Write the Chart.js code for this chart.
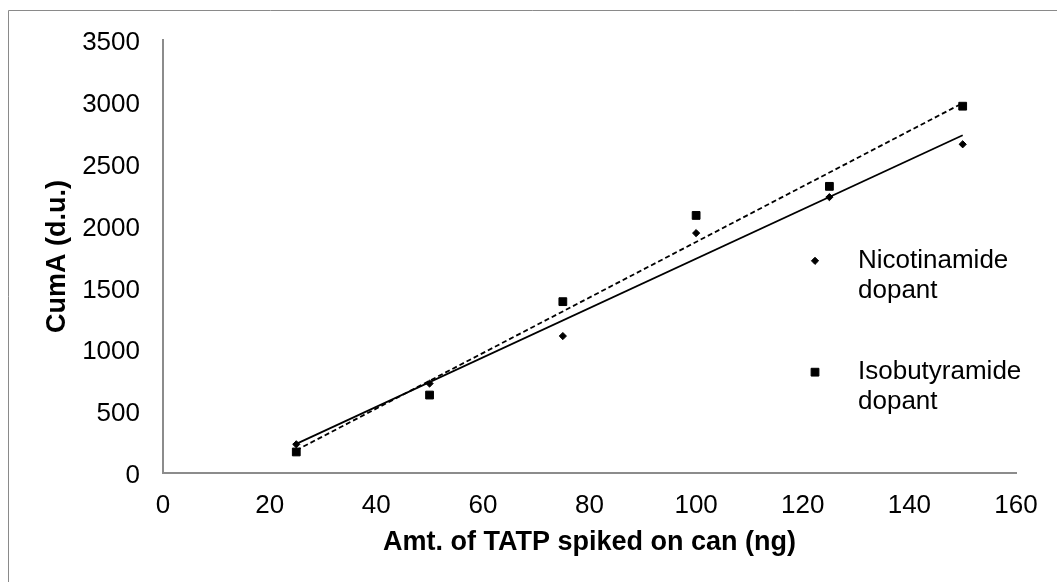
<!DOCTYPE html>
<html>
<head>
<meta charset="utf-8">
<title>CumA vs amount of TATP</title>
<script src="https://cdn.jsdelivr.net/npm/chart.js@4/dist/chart.umd.min.js"></script>
<style>
  html, body { margin: 0; padding: 0; background: #ffffff; }
  #wrap { position: relative; width: 1057px; height: 582px; }
  canvas { display: block; }
</style>
</head>
<body>
<div id="wrap"><canvas id="chart" width="1057" height="582"></canvas></div>
<script>
// Amount of TATP spiked on the can (ng)
const amounts = [25, 50, 75, 100, 125, 150];

// Cumulative amplitude (d.u.) for each dopant
const nicotinamide = [232, 723, 1107, 1939, 2230, 2657];
const isobutyramide = [170, 630, 1385, 2082, 2317, 2965];

// Linear trend line end points (x at 25 and 150 ng)
const trendX = [25, 150];
const nicotinamideTrend = [235, 2730];
const isobutyramideTrend = [184, 2990];

// Axis ticks
const xTicks = [0, 20, 40, 60, 80, 100, 120, 140, 160];
const yTicks = [0, 500, 1000, 1500, 2000, 2500, 3000, 3500];

// Legend text (two lines per entry)
const legendLabels = [
  ['Nicotinamide', 'dopant'],
  ['Isobutyramide', 'dopant']
];

const FONT = '"Liberation Sans", Arial, Helvetica, sans-serif';
const AXIS_GREY = '#8c8c8c';

const pairs = (xs, ys) => xs.map((x, i) => ({ x: x, y: ys[i] }));

// Frame lines along the top and left of the figure, plus a legend inside the plot
const framePlugin = {
  id: 'frame',
  beforeDraw(chart) {
    const ctx = chart.ctx;
    ctx.save();
    ctx.fillStyle = '#ffffff';
    ctx.fillRect(0, 0, chart.width, chart.height);
    ctx.strokeStyle = '#8a8a8a';
    ctx.lineWidth = 1;
    ctx.beginPath();
    ctx.moveTo(8.5, chart.height);
    ctx.lineTo(8.5, 10.5);
    ctx.lineTo(chart.width, 10.5);
    ctx.stroke();
    ctx.restore();
  },
  afterDraw(chart) {
    const ctx = chart.ctx;
    const xs = chart.scales.x;
    const ys = chart.scales.y;
    // legend anchored to data space so it sits beside the upper points
    const markerX = xs.getPixelForValue(122.3);
    const textX = markerX + 43;
    const rows = [ys.getPixelForValue(1715), ys.getPixelForValue(815)];
    const lineGap = 30;
    ctx.save();
    ctx.font = '26px ' + FONT;
    ctx.fillStyle = '#000000';
    ctx.textBaseline = 'middle';
    ctx.textAlign = 'left';
    legendLabels.forEach((lines, i) => {
      const ds = chart.data.datasets[i];
      const style = {
        pointStyle: ds.pointStyle,
        radius: ds.pointRadius,
        borderWidth: ds.pointBorderWidth || 1,
        rotation: 0
      };
      ctx.fillStyle = '#000000';
      ctx.strokeStyle = '#000000';
      ctx.lineWidth = style.borderWidth;
      Chart.helpers.drawPoint(ctx, style, markerX, rows[i]);
      lines.forEach((t, j) => ctx.fillText(t, textX, rows[i] + j * lineGap));
    });
    ctx.restore();
  }
};

new Chart(document.getElementById('chart'), {
  type: 'scatter',
  data: {
    datasets: [
      {
        label: 'Nicotinamide dopant',
        data: pairs(amounts, nicotinamide),
        pointStyle: 'rectRot',
        pointRadius: 3.6,
        pointBorderWidth: 1,
        backgroundColor: '#000000',
        borderColor: '#000000',
        showLine: false,
        order: 0
      },
      {
        label: 'Isobutyramide dopant',
        data: pairs(amounts, isobutyramide),
        pointStyle: 'rect',
        pointRadius: 5.5,
        pointBorderWidth: 1,
        backgroundColor: '#000000',
        borderColor: '#000000',
        showLine: false,
        order: 0
      },
      {
        label: 'Linear (Nicotinamide dopant)',
        data: pairs(trendX, nicotinamideTrend),
        showLine: true,
        borderColor: '#000000',
        borderWidth: 1.8,
        pointRadius: 0,
        order: 1
      },
      {
        label: 'Linear (Isobutyramide dopant)',
        data: pairs(trendX, isobutyramideTrend),
        showLine: true,
        borderColor: '#000000',
        borderWidth: 1.8,
        borderDash: [5, 3],
        pointRadius: 0,
        order: 1
      }
    ]
  },
  options: {
    responsive: false,
    animation: false,
    devicePixelRatio: 1,
    layout: { padding: { top: 40, right: 41, left: 0, bottom: 0 } },
    plugins: {
      legend: { display: false },
      tooltip: { enabled: false }
    },
    scales: {
      x: {
        type: 'linear',
        min: xTicks[0],
        max: xTicks[xTicks.length - 1],
        afterBuildTicks(scale) { scale.ticks = xTicks.map(v => ({ value: v })); },
        afterFit(scale) { scale.height = 109; },
        grid: { display: false, drawTicks: false },
        border: { display: true, color: AXIS_GREY, width: 2 },
        ticks: {
          padding: 17,
          color: '#000000',
          font: { family: FONT, size: 26 },
          maxRotation: 0,
          callback: v => String(v)
        },
        title: {
          display: true,
          text: 'Amt. of TATP spiked on can (ng)',
          color: '#000000',
          font: { family: FONT, size: 27, weight: 'bold' },
          padding: { top: 0, bottom: 23 }
        }
      },
      y: {
        type: 'linear',
        min: yTicks[0],
        max: yTicks[yTicks.length - 1],
        afterBuildTicks(scale) { scale.ticks = yTicks.map(v => ({ value: v })); },
        afterFit(scale) { scale.width = 163; },
        grid: { display: false, drawTicks: false },
        border: { display: true, color: AXIS_GREY, width: 2 },
        ticks: {
          padding: 23,
          labelOffset: 3,
          color: '#000000',
          font: { family: FONT, size: 26 },
          callback: v => String(v)
        },
        title: {
          display: true,
          text: 'CumA (d.u.)',
          color: '#000000',
          font: { family: FONT, size: 27, weight: 'bold' },
          padding: { top: 41, bottom: 0 }
        }
      }
    }
  },
  plugins: [framePlugin]
});
</script>
</body>
</html>
